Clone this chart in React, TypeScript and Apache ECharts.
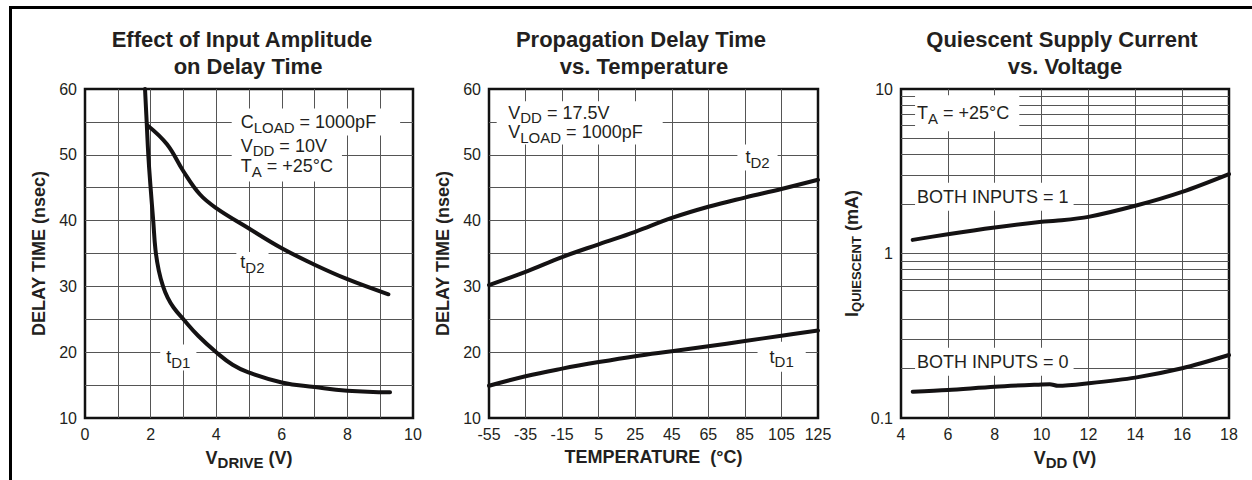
import React, { useEffect, useRef } from 'react';
import * as echarts from 'echarts';

const FONT = "'Liberation Sans', Arial, Helvetica, sans-serif";
const INK = '#231f20';
const GRIDC = '#555555';
const CURVE = '#141213';

// ---------- Panel 1: Effect of Input Amplitude on Delay Time ----------
const driveD1 = [1.83, 1.88, 1.93, 2.0, 2.08, 2.15, 2.25, 2.38, 2.52, 2.7, 3.0, 3.45, 4.0, 4.5, 5.0, 6, 7, 8, 9.3];
const delayD1 = [60, 55, 50, 45, 40, 35.5, 32.4, 30, 28.3, 26.8, 25, 22.5, 20, 18.1, 16.9, 15.4, 14.7, 14.15, 13.9];
const driveD2 = [1.9, 2.5, 3, 3.5, 4, 5, 6, 7, 8, 9.25];
const delayD2 = [54.5, 51.6, 47.5, 44.0, 41.9, 38.8, 35.8, 33.3, 31.1, 28.8];

// ---------- Panel 2: Propagation Delay Time vs. Temperature ----------
const tempC = [-55, -35, -15, 5, 25, 45, 65, 85, 105, 125];
const tD1Temp = [14.9, 16.35, 17.5, 18.5, 19.4, 20.15, 20.9, 21.7, 22.5, 23.3];
const tD2Temp = [30.2, 32.2, 34.45, 36.4, 38.3, 40.4, 42.1, 43.5, 44.8, 46.2];
const TEMP_MIN = -55; // axis starts at -55 °C

// ---------- Panel 3: Quiescent Supply Current vs. Voltage ----------
const vddOne = [4.5, 6, 8, 10, 10.6, 12, 14, 16, 18];
const iqOne = [1.21, 1.31, 1.44, 1.56, 1.58, 1.67, 1.95, 2.37, 3.04];
const vddZero = [4.5, 6, 8, 10, 10.35, 10.7, 12, 14, 16, 18];
const iqZero = [0.1445, 0.148, 0.155, 0.16, 0.1605, 0.157, 0.1625, 0.176, 0.2005, 0.2415];
const logMinorLines = [0.2, 0.3, 0.4, 0.6, 0.7, 0.8, 0.9, 2, 3, 4, 5, 6, 7, 8, 9];

const zip = (xs: number[], ys: number[], dx = 0) => xs.map((x, i) => [x + dx, ys[i]]);

// subscript style for rich text: lowered by `drop` px relative to main baseline
const sub = (main: number, size: number, drop: number, bold = false) => ({
  fontFamily: FONT,
  fontSize: size,
  lineHeight: size,
  color: INK,
  fontWeight: bold ? 'bold' : 'normal',
  padding: [Math.max(0, 2 * (drop + 0.3465 * (main - size))), 0, 0, 0],
});

const note = (
  coord: number[],
  text: string,
  padding: number[],
  lineHeight: number,
  position: string = 'right'
) => ({
  coord,
  symbol: 'circle',
  symbolSize: 0,
  itemStyle: { color: 'rgba(0,0,0,0)' },
  label: {
    show: true,
    position,
    distance: 0,
    formatter: text,
    fontFamily: FONT,
    fontSize: 18,
    lineHeight,
    color: INK,
    backgroundColor: '#ffffff',
    padding,
    rich: { s: sub(18, 15, 4) },
  },
});

const curve = (idx: number, data: number[][], marks?: any[], smooth = 0.4) => ({
  type: 'line',
  xAxisIndex: idx,
  yAxisIndex: idx,
  data,
  smooth,
  showSymbol: false,
  symbol: 'none',
  silent: true,
  z: 3,
  lineStyle: { color: CURVE, width: 4, cap: 'round', join: 'round' },
  markPoint: marks ? { silent: true, z: 10, data: marks } : undefined,
});

const tickLabel = { color: INK, fontFamily: FONT, fontSize: 16, margin: 8 };
const gridLine = { show: true, showMinLine: false, showMaxLine: false, lineStyle: { color: GRIDC, width: 1 } };
const minorGrid = { show: true, lineStyle: { color: GRIDC, width: 1 } };
const nameStyle = (subSize = 15) => ({
  color: INK,
  fontFamily: FONT,
  fontSize: 18,
  fontWeight: 'bold',
  rich: { s: sub(18, subSize, 3, true) },
});

const baseAxis = {
  type: 'value',
  axisLine: { show: false },
  axisTick: { show: false },
  axisLabel: tickLabel,
  splitLine: gridLine,
  nameLocation: 'middle',
};

const titleText = (x: number, y: number, text: string) => ({
  type: 'text',
  x,
  y,
  silent: true,
  style: {
    text,
    fill: INK,
    font: `bold 22px ${FONT}`,
    align: 'center',
    verticalAlign: 'middle',
  },
});

function buildOption() {
  const gridBase = { show: true, borderColor: '#111111', borderWidth: 2.5, backgroundColor: 'rgba(0,0,0,0)' };
  return {
    animation: false,
    backgroundColor: '#ffffff',
    grid: [
      { ...gridBase, left: 85, top: 89, width: 328, height: 329 },
      { ...gridBase, left: 489, top: 89, width: 329, height: 329 },
      { ...gridBase, left: 901, top: 89, width: 328, height: 329 },
    ],
    xAxis: [
      {
        ...baseAxis,
        gridIndex: 0,
        min: 0,
        max: 10,
        interval: 2,
        minorTick: { show: false, splitNumber: 2 },
        minorSplitLine: minorGrid,
        name: 'V{s|DRIVE} (V)',
        nameGap: 30,
        nameTextStyle: nameStyle(15),
      },
      {
        ...baseAxis,
        gridIndex: 1,
        min: 0,
        max: 180,
        interval: 20,
        axisLabel: { ...tickLabel, formatter: (v: number) => String(v + TEMP_MIN) },
        name: 'TEMPERATURE\u00a0 (°C)',
        nameGap: 30,
        nameTextStyle: nameStyle(15),
      },
      {
        ...baseAxis,
        gridIndex: 2,
        min: 4,
        max: 18,
        interval: 2,
        name: 'V{s|DD} (V)',
        nameGap: 28,
        nameTextStyle: nameStyle(15),
      },
    ],
    yAxis: [
      {
        ...baseAxis,
        gridIndex: 0,
        min: 10,
        max: 60,
        interval: 10,
        minorTick: { show: false, splitNumber: 2 },
        minorSplitLine: minorGrid,
        name: 'DELAY TIME (nsec)',
        nameGap: 37,
        nameTextStyle: nameStyle(15),
      },
      {
        ...baseAxis,
        gridIndex: 1,
        min: 10,
        max: 60,
        interval: 10,
        minorTick: { show: false, splitNumber: 2 },
        minorSplitLine: minorGrid,
        name: 'DELAY TIME (nsec)',
        nameGap: 37,
        nameTextStyle: nameStyle(15),
      },
      {
        ...baseAxis,
        type: 'log',
        logBase: 10,
        gridIndex: 2,
        min: 0.1,
        max: 10,
        axisLabel: { ...tickLabel, formatter: (v: number) => String(v) },
        name: 'I{s|QUIESCENT} (mA)',
        nameGap: 40,
        nameTextStyle: nameStyle(13),
      },
    ],
    graphic: [
      { type: 'rect', silent: true, shape: { x: 9, y: 6, width: 1243, height: 3 }, style: { fill: '#000' } },
      { type: 'rect', silent: true, shape: { x: 9, y: 6, width: 3, height: 474 }, style: { fill: '#000' } },
      titleText(242, 39.5, 'Effect of Input Amplitude'),
      titleText(248, 66, 'on Delay Time'),
      titleText(641, 39.5, 'Propagation Delay Time'),
      titleText(644, 66, 'vs. Temperature'),
      titleText(1062, 39.5, 'Quiescent Supply Current'),
      titleText(1065, 66, 'vs. Voltage'),
    ],
    series: [
      // Panel 1
      curve(0, zip(driveD1, delayD1), [
        note([2.845, 19.2], 't{s|D1}', [4, 6, 4, 6], 18, 'inside'),
        note([4.473, 49.51], 'V{s|DD} = 10V\nT{s|A} = +25°C', [1, 9, 5, 9], 20.5),
        note([4.473, 55.0], 'C{s|LOAD} = 1000pF', [3, 24, 2, 9], 22),
      ], 0.45),
      curve(0, zip(driveD2, delayD2), [note([5.105, 33.71], 't{s|D2}', [1, 4, 1, 4], 18, 'inside')]),
      // Panel 2
      curve(1, zip(tempC, tD2Temp, -TEMP_MIN), [
        note([146.9, 49.6], 't{s|D2}', [4, 8, 4, 8], 18, 'inside'),
        note([4.2, 54.85], 'V{s|DD} = 17.5V\nV{s|LOAD} = 1000pF', [2, 20, 3, 11.6], 19.2),
      ]),
      curve(1, zip(tempC, tD1Temp, -TEMP_MIN), [note([160.1, 19.3], 't{s|D1}', [6, 12, 6, 12], 18, 'inside')]),
      // Panel 3 minor log grid lines
      {
        type: 'line',
        xAxisIndex: 2,
        yAxisIndex: 2,
        data: [],
        silent: true,
        markLine: {
          silent: true,
          z: 1,
          symbol: 'none',
          label: { show: false },
          lineStyle: { color: GRIDC, width: 1, type: 'solid' },
          data: logMinorLines.map((v) => ({ yAxis: v })),
        },
      },
      curve(
        2,
        zip(vddOne, iqOne),
        [
          note([4.6, 7.12], 'T{s|A} = +25°C', [7, 10, 7, 2], 22),
          note([4.6, 2.214], 'BOTH INPUTS = 1', [3, 5, 3, 2], 22),
        ],
        0.3
      ),
      curve(2, zip(vddZero, iqZero), [note([4.6, 0.2199], 'BOTH INPUTS = 0', [3, 5, 3, 2], 22)], 0.3),
    ],
  };
}

export default function App() {
  const ref = useRef<HTMLDivElement>(null);
  useEffect(() => {
    document.body.style.margin = '0';
    const chart = echarts.init(ref.current as HTMLDivElement, null, { renderer: 'svg' });
    chart.setOption(buildOption() as any);
    return () => chart.dispose();
  }, []);
  return <div ref={ref} style={{ width: 1252, height: 480, background: '#fff' }} />;
}
